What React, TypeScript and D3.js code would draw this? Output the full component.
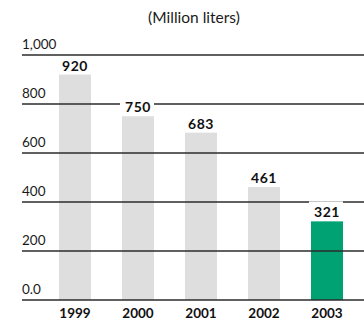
import React from "react";
import * as d3 from "d3";

const years = ["1999", "2000", "2001", "2002", "2003"];
const values = [920, 750, 683, 461, 321];
const tickValues = [0, 200, 400, 600, 800, 1000];
const tickLabels = ["0.0", "200", "400", "600", "800", "1,000"];
const title = "(Million liters)";

const W = 364;
const H = 324;
const FONT = "Lato, 'Open Sans', sans-serif";

export default function App() {
  const y = d3.scaleLinear().domain([0, 1000]).range([300, 55]);
  const x = d3
    .scaleBand<string>()
    .domain(years)
    .range([43.5, 358.5])
    .paddingInner(0.492)
    .paddingOuter(0.246);
  const bw = x.bandwidth();
  const gridX1 = 22;
  const gridX2 = W;
  const lineColor = "#2b2b2b";
  const topTick = tickValues[tickValues.length - 1];

  return (
    <svg
      width={W}
      height={H}
      style={{ position: "absolute", left: 0, top: 0, background: "#fff" }}
      fontFamily={FONT}
    >
      <text x={194} y={23} textAnchor="middle" fontSize={15.5} fill="#1a1a1a">
        {title}
      </text>
      {values.map((v, i) => (
        <rect
          key={"b" + i}
          x={x(years[i])}
          y={y(v)}
          width={bw}
          height={y(0) - y(v)}
          fill={i === values.length - 1 ? "#00a274" : "#dedede"}
        />
      ))}
      {tickValues
        .filter((t) => t !== topTick)
        .map((t) => (
          <line
            key={"g" + t}
            x1={gridX1}
            x2={gridX2}
            y1={y(t)}
            y2={y(t)}
            stroke={lineColor}
            strokeWidth={1.5}
          />
        ))}
      {values.map((v, i) => {
        const cx = (x(years[i]) as number) + bw / 2;
        return (
          <g key={"l" + i}>
            <rect x={cx - 18} y={y(v) - 20} width={34} height={18} fill="#fff" />
            <text
              x={cx}
              y={y(v) - 4}
              textAnchor="middle"
              fontSize={14}
              fontWeight="bold"
              letterSpacing={0.5}
              fill="#111"
            >
              {v}
            </text>
          </g>
        );
      })}
      <line
        x1={gridX1}
        x2={gridX2}
        y1={y(topTick)}
        y2={y(topTick)}
        stroke={lineColor}
        strokeWidth={1.5}
      />
      {tickValues.map((t, i) => (
        <text key={"t" + t} x={gridX1} y={y(t) - 6.5} fontSize={13.5} fill="#1a1a1a">
          {tickLabels[i]}
        </text>
      ))}
      {years.map((yr) => (
        <text
          key={"x" + yr}
          x={(x(yr) as number) + bw / 2}
          y={318}
          textAnchor="middle"
          fontSize={13.5}
          fontWeight="bold"
          fill="#111"
        >
          {yr}
        </text>
      ))}
    </svg>
  );
}
